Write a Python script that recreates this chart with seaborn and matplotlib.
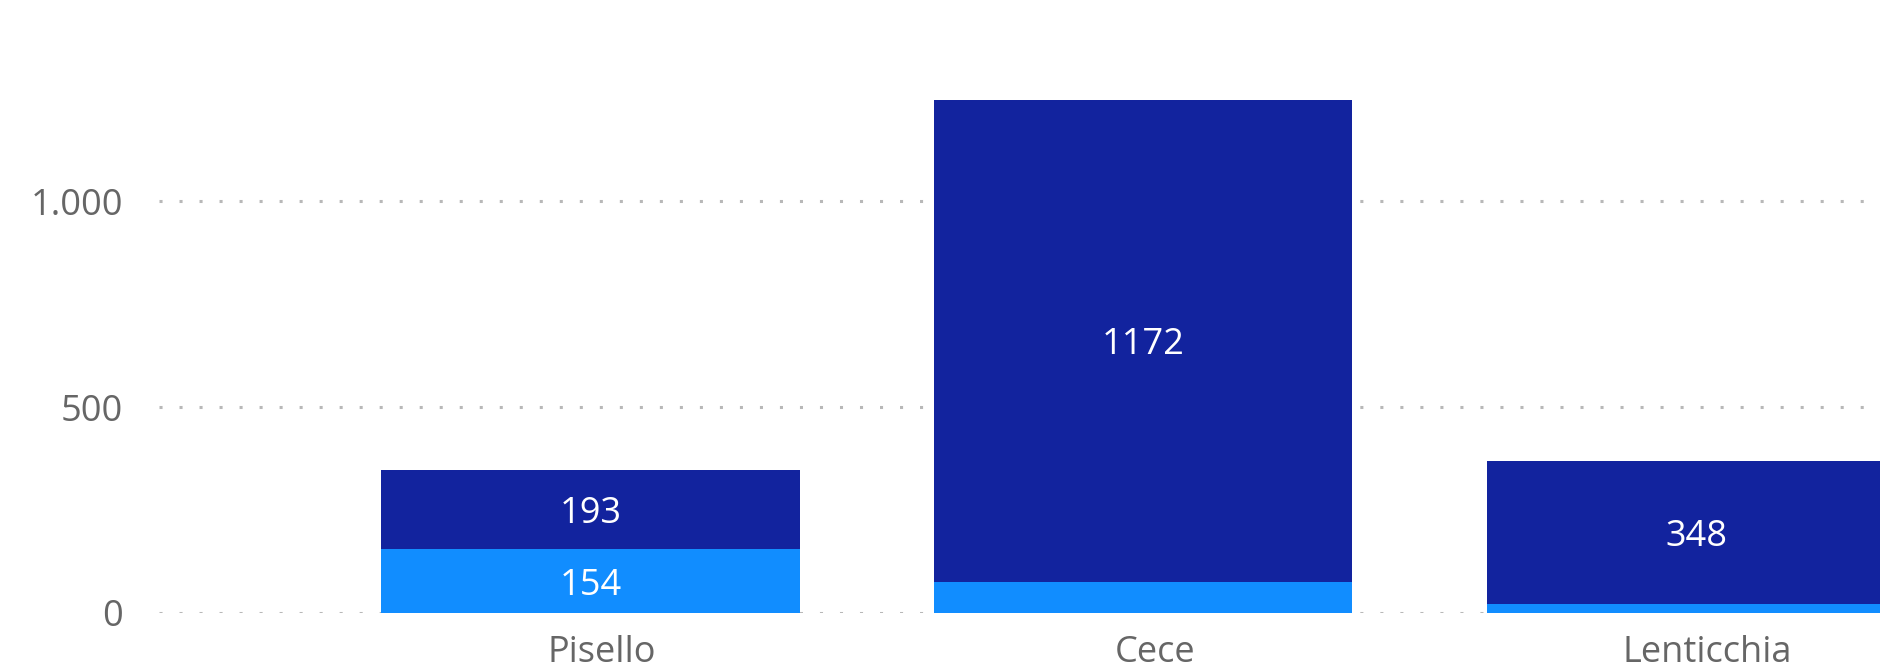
import matplotlib
matplotlib.use("Agg")
import matplotlib.pyplot as plt
import matplotlib.transforms as mtransforms
import pandas as pd
import seaborn as sns

# values
categories = ["Pisello", "Cece", "Lenticchia"]
light_vals = [154, 75, 22]      # lower segment (light blue)
dark_vals = [193, 1172, 348]    # upper segment (dark blue)
light_labels = ["154", "", ""]
dark_labels = ["193", "1172", "348"]
yticks = [0, 500, 1000]
ytick_labels = ["0", "500", "1.000"]

DARK = "#12239E"
LIGHT = "#118DFF"
TEXT = "#666666"

sns.set_style("white")
plt.rcParams["font.family"] = ["Open Sans", "DejaVu Sans"]

df = pd.DataFrame({
    "cat": categories,
    "light": light_vals,
    "dark": dark_vals,
})
df["total"] = df["light"] + df["dark"]

fig = plt.figure(figsize=(18.8, 6.69), dpi=100)
ax = fig.add_axes([0.0846, 0.0842, 0.9154, 0.8606])

# stacked look: totals in dark, light segment drawn over from zero
sns.barplot(data=df, x="cat", y="total", order=categories, color=DARK,
            width=0.757, saturation=1, linewidth=0, ax=ax, zorder=2)
sns.barplot(data=df, x="cat", y="light", order=categories, color=LIGHT,
            width=0.757, saturation=1, linewidth=0, ax=ax, zorder=3)

for i, row in df.iterrows():
    if dark_labels[i]:
        ax.text(i, row["light"] + row["dark"] / 2, dark_labels[i], color="white",
                ha="center", va="center_baseline", fontsize=26, zorder=5)
    if light_labels[i]:
        ax.text(i, row["light"] / 2, light_labels[i], color="white",
                ha="center", va="center_baseline", fontsize=26, zorder=5)

ax.set_xlim(-0.781, 2.333)
ax.set_ylim(0, 1400)
ax.set_yticks(yticks)
ax.set_yticklabels(ytick_labels)
ax.set_xlabel("")
ax.set_ylabel("")

ax.yaxis.grid(True, color="#B8B8B8", linewidth=2.2, linestyle=(0, (1, 5.55)), zorder=1)
ax.xaxis.grid(False)
ax.set_axisbelow(True)
for s in ax.spines.values():
    s.set_visible(False)

ax.tick_params(axis="y", length=0, pad=26, labelsize=26, labelcolor=TEXT)
ax.tick_params(axis="x", length=0, pad=16, labelsize=26, labelcolor=TEXT)

# category labels sit a little right of the bar centres in the original
shift = mtransforms.ScaledTranslation(11.5 / 100, 0, fig.dpi_scale_trans)
for lbl in ax.get_xticklabels():
    lbl.set_transform(lbl.get_transform() + shift)

fig.savefig("out.png", dpi=100, facecolor="white")
